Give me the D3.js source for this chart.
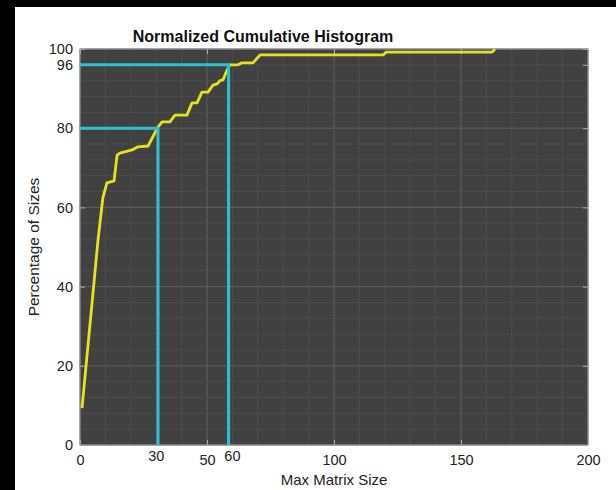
<!DOCTYPE html>
<html>
  <head>
    <style>
      body { margin: 0; background: #000; }
      text { font-family: "Liberation Sans", Arial, sans-serif; }
    </style>
  </head>

  <body>

    <svg class="surface" width="616" height="490"></svg>

    <script src="https://cdnjs.cloudflare.com/ajax/libs/d3/7.8.5/d3.min.js" charset="utf-8"></script>
    <script>

      // cumulative curve
      const sizes    = [0.8, 7.1, 9, 10.6, 13.4, 14.6, 15.7, 20.5, 22.8, 26.8, 30.7, 32.3, 35.4, 37.4, 42.1, 44.1, 46.1, 48, 50.4, 52.4, 54, 55.1, 56.3, 57.9, 59, 62.2, 63.8, 68.1, 70.9, 119.3, 120.5, 162.2, 163.4]
      const percents = [9.3, 51.8, 62.4, 66.2, 66.7, 73.2, 73.7, 74.5, 75.3, 75.5, 80.3, 81.6, 81.6, 83.3, 83.3, 86.4, 86.4, 89.1, 89.1, 90.9, 91.2, 92, 92.2, 94.7, 96, 96, 96.5, 96.5, 98.5, 98.5, 99.2, 99.2, 100]

      const xTicks = [0, 50, 100, 150, 200]
      const yTicks = [0, 20, 40, 60, 80, 96, 100]
      const xMinor = d3.range(0, 201, 10)
      const yMinor = d3.range(0, 101, 4)

      // cut-off markers
      const markerSize = [30.7, 58.5]
      const markerPct = [80, 96]
      const markerLabels = [30, 60]

      const surface = d3.select('.surface')
      const pLeft = 80, pRight = 588, pTop = 49, pBottom = 445

      surface.append('rect').attr('width', 616).attr('height', 490).attr('fill', '#000')
      surface.append('rect').attr('x', 15).attr('y', 7).attr('width', 601).attr('height', 483).attr('fill', '#fff')

      const x = d3.scaleLinear().domain([0, 200]).range([pLeft, pRight])
      const y = d3.scaleLinear().domain([0, 100]).range([pBottom, pTop])

      surface.append('rect')
        .attr('x', pLeft).attr('y', pTop)
        .attr('width', pRight - pLeft).attr('height', pBottom - pTop)
        .attr('fill', '#414141')

      // grid
      const grid = surface.append('g')
      grid.selectAll('.vmin').data(xMinor).enter().append('line')
        .attr('x1', d => x(d)).attr('x2', d => x(d)).attr('y1', pTop).attr('y2', pBottom)
        .attr('stroke', d => d % 50 === 0 ? '#5e5e5e' : '#4c4c4c').attr('stroke-width', 1)
      grid.selectAll('.hmin').data(yMinor).enter().append('line')
        .attr('y1', d => y(d)).attr('y2', d => y(d)).attr('x1', pLeft).attr('x2', pRight)
        .attr('stroke', d => d % 20 === 0 ? '#5e5e5e' : '#4c4c4c').attr('stroke-width', 1)

      // axes, ticks inside like matlab
      const axisStyle = g => {
        g.select('.domain').remove()
        g.selectAll('.tick line').attr('stroke', '#b0b0b0')
        g.selectAll('.tick text').attr('fill', '#222').attr('font-size', 14.5)
      }
      surface.append('g').attr('transform', `translate(0,${pBottom})`)
        .call(d3.axisBottom(x).tickValues(xTicks).tickSize(-5).tickPadding(10).tickFormat(d3.format('d')))
        .call(axisStyle)
      surface.append('g').attr('transform', `translate(0,${pTop})`)
        .call(d3.axisTop(x).tickValues(xTicks).tickSize(-5).tickFormat(''))
        .call(axisStyle)
      surface.append('g').attr('transform', `translate(${pLeft},0)`)
        .call(d3.axisLeft(y).tickValues(yTicks).tickSize(-5).tickPadding(7).tickFormat(d3.format('d')))
        .call(axisStyle)
      surface.append('g').attr('transform', `translate(${pRight},0)`)
        .call(d3.axisRight(y).tickValues(yTicks).tickSize(-5).tickFormat(''))
        .call(axisStyle)

      surface.append('rect')
        .attr('x', pLeft).attr('y', pTop)
        .attr('width', pRight - pLeft).attr('height', pBottom - pTop)
        .attr('fill', 'none').attr('stroke', '#9a9a9a').attr('stroke-width', 1)

      // curve
      const points = sizes.map((s, i) => [s, percents[i]])
      surface.append('path')
        .datum(points)
        .attr('d', d3.line().x(d => x(d[0])).y(d => y(d[1])))
        .attr('fill', 'none')
        .attr('stroke', '#e6e21e')
        .attr('stroke-width', 2.8)
        .attr('stroke-linejoin', 'round')

      // markers
      const markers = surface.append('g')
      markerSize.forEach((s, i) => {
        markers.append('path')
          .attr('d', `M${x(0)},${y(markerPct[i])}H${x(s)}V${y(0)}`)
          .attr('fill', 'none').attr('stroke', '#2ac3d1').attr('stroke-width', 3)
      })
      markers.selectAll('text').data(markerLabels).enter().append('text')
        .attr('x', d => x(d)).attr('y', 461)
        .attr('text-anchor', 'middle').attr('font-size', 14.5).attr('fill', '#222')
        .text(d => d)

      // labels
      surface.append('text')
        .attr('x', 263).attr('y', 42)
        .attr('text-anchor', 'middle').attr('font-size', 16).attr('font-weight', 'bold').attr('fill', '#111')
        .text('Normalized Cumulative Histogram')
      surface.append('text')
        .attr('x', (pLeft + pRight) / 2).attr('y', 485)
        .attr('text-anchor', 'middle').attr('font-size', 15).attr('fill', '#222')
        .text('Max Matrix Size')
      surface.append('text')
        .attr('transform', 'translate(39,247) rotate(-90)')
        .attr('text-anchor', 'middle').attr('font-size', 15.5).attr('fill', '#222')
        .text('Percentage of Sizes')

    </script>
  </body>

</html>
